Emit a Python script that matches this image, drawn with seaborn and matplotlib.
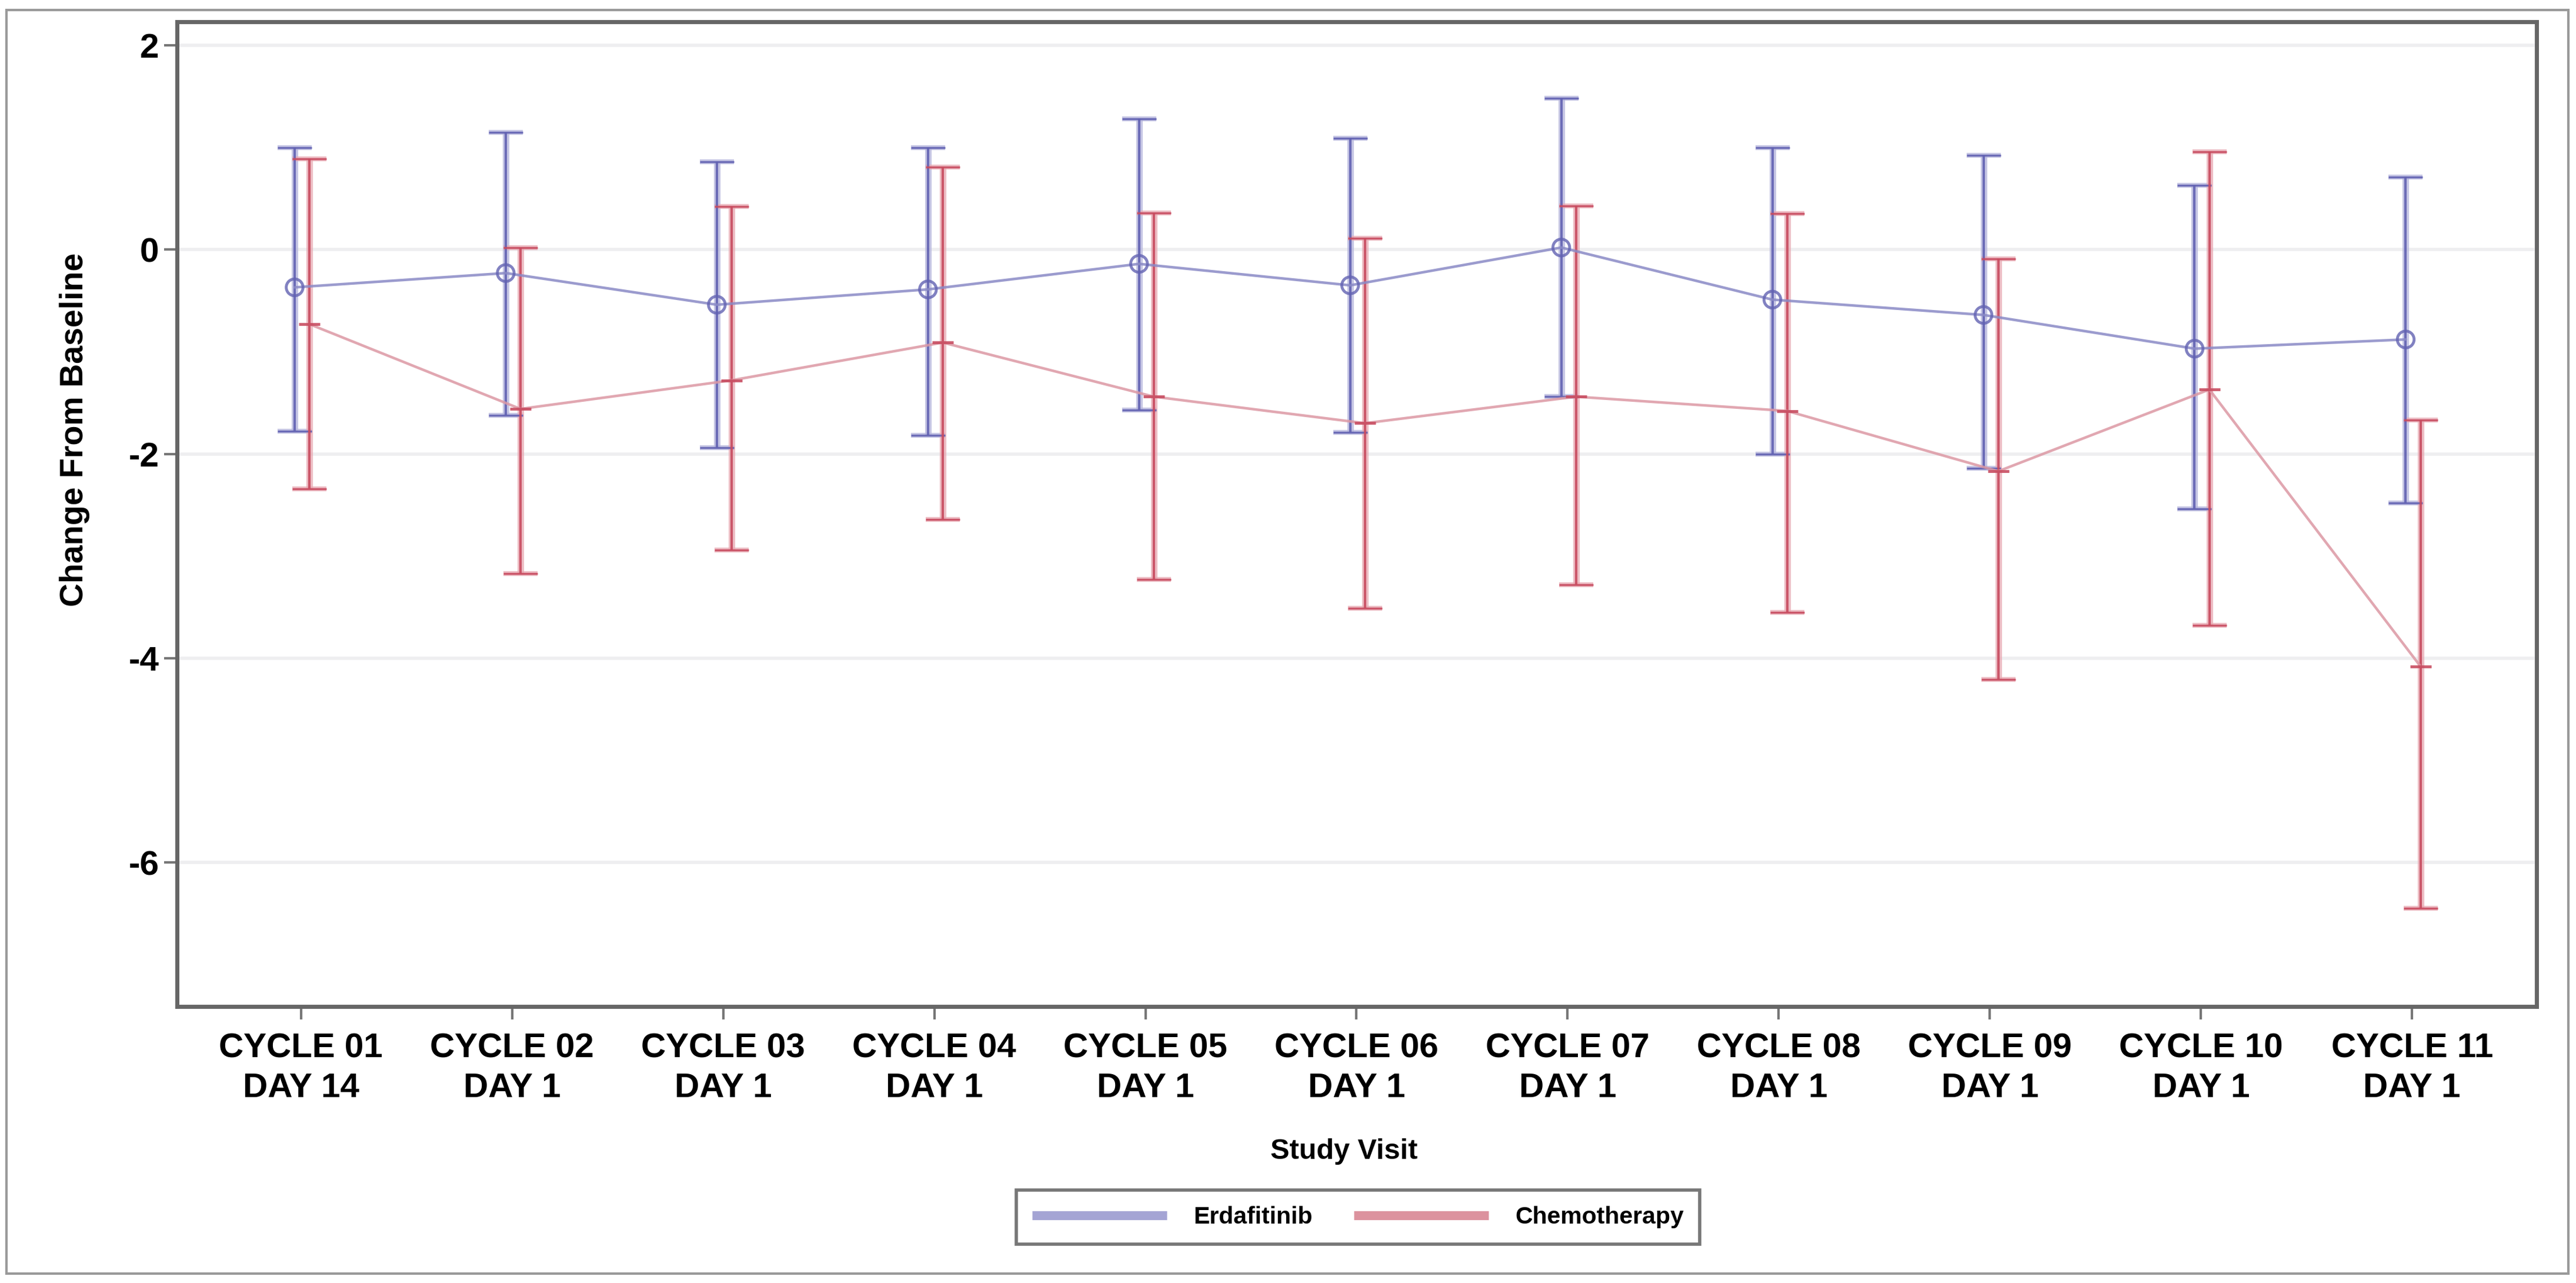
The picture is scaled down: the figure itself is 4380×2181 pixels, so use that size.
import numpy as np
import pandas as pd
import matplotlib
matplotlib.use("Agg")
import matplotlib.pyplot as plt
from matplotlib.lines import Line2D
from matplotlib.patches import Rectangle
import seaborn as sns

# data
visits = [
    "CYCLE 01\nDAY 14", "CYCLE 02\nDAY 1", "CYCLE 03\nDAY 1", "CYCLE 04\nDAY 1",
    "CYCLE 05\nDAY 1", "CYCLE 06\nDAY 1", "CYCLE 07\nDAY 1", "CYCLE 08\nDAY 1",
    "CYCLE 09\nDAY 1", "CYCLE 10\nDAY 1", "CYCLE 11\nDAY 1",
]
groups = ["Erdafitinib", "Chemotherapy"]

erda_mean = [-0.37, -0.23, -0.54, -0.39, -0.14, -0.35, 0.02, -0.49, -0.64, -0.97, -0.88]
erda_low = [-1.78, -1.62, -1.94, -1.82, -1.57, -1.79, -1.44, -2.00, -2.14, -2.54, -2.48]
erda_high = [1.00, 1.15, 0.86, 1.00, 1.28, 1.09, 1.48, 1.00, 0.92, 0.63, 0.71]

chemo_mean = [-0.73, -1.56, -1.28, -0.91, -1.44, -1.70, -1.44, -1.58, -2.17, -1.37, -4.08]
chemo_low = [-2.34, -3.17, -2.94, -2.64, -3.23, -3.51, -3.28, -3.55, -4.21, -3.68, -6.45]
chemo_high = [0.89, 0.02, 0.42, 0.81, 0.36, 0.11, 0.43, 0.35, -0.09, 0.96, -1.67]

y_ticks = [2, 0, -2, -4, -6]

# styling
W, H = 4380, 2181
DPI = 100
dodge = {"Erdafitinib": -0.03, "Chemotherapy": 0.04}
core = {"Erdafitinib": "#6262b2", "Chemotherapy": "#c84c60"}
halo = {"Erdafitinib": "#b4b4dc", "Chemotherapy": "#e8a8b2"}
link = {"Erdafitinib": "#8a8ac6", "Chemotherapy": "#dc98a4"}
legend_col = {"Erdafitinib": "#a4a4d4", "Chemotherapy": "#dc929e"}


def build_frame():
    rows = []
    for g, m, lo, hi in [
        ("Erdafitinib", erda_mean, erda_low, erda_high),
        ("Chemotherapy", chemo_mean, chemo_low, chemo_high),
    ]:
        for i in range(len(visits)):
            rows.append({"group": g, "idx": i, "xpos": i + dodge[g],
                         "mean": m[i], "low": lo[i], "high": hi[i]})
    return pd.DataFrame(rows)


def main():
    sns.set_style("white")
    plt.rcParams["font.family"] = ["Liberation Sans", "DejaVu Sans"]
    plt.rcParams["font.weight"] = "bold"
    plt.rcParams["axes.unicode_minus"] = False
    plt.rcParams["text.color"] = "black"
    plt.rcParams["xtick.labelcolor"] = "black"
    plt.rcParams["ytick.labelcolor"] = "black"

    df = build_frame()

    fig = plt.figure(figsize=(W / DPI, H / DPI), dpi=DPI)
    ax = fig.add_axes([301 / W, 1 - 1711 / H, (4313 - 301) / W, (1711 - 37) / H])

    # light horizontal grid
    for y in y_ticks:
        ax.axhline(y, color="#eeeef0", lw=4, zorder=0)

    # error bars: soft halo + darker core
    for g in groups:
        d = df[df["group"] == g]
        yerr = [d["mean"] - d["low"], d["high"] - d["mean"]]
        ax.errorbar(d["xpos"], d["mean"], yerr=yerr, fmt="none",
                    ecolor=halo[g], elinewidth=8, capsize=21, capthick=6,
                    alpha=0.75, zorder=2)
        ax.errorbar(d["xpos"], d["mean"], yerr=yerr, fmt="none",
                    ecolor=core[g], elinewidth=3, capsize=21, capthick=2.5,
                    alpha=0.9, zorder=3)

    # mean lines
    sns.lineplot(data=df, x="xpos", y="mean", hue="group", hue_order=groups,
                 palette=link, estimator=None, sort=False, lw=3.2,
                 alpha=0.85, legend=False, ax=ax, zorder=4)

    # hollow circles for erdafitinib means, short dash for chemotherapy means
    sns.scatterplot(data=df[df["group"] == "Erdafitinib"], x="xpos", y="mean",
                    s=420, marker="o", facecolors="none",
                    edgecolor=core["Erdafitinib"], linewidth=3.5,
                    alpha=0.8, legend=False, ax=ax, zorder=5)
    sns.scatterplot(data=df[df["group"] == "Chemotherapy"], x="xpos", y="mean",
                    s=700, marker="_", color=core["Chemotherapy"], linewidth=3.5,
                    alpha=0.9, legend=False, ax=ax, zorder=5)

    ax.set_xlim(-0.587, 10.59)
    ax.set_ylim(-7.41, 2.23)
    ax.set_xticks(range(len(visits)))
    ax.set_xticklabels(visits, fontsize=42, fontweight="bold", linespacing=1.32,
                       color="black")
    ax.set_yticks(y_ticks)
    ax.set_yticklabels([str(v) for v in y_ticks], fontsize=42, fontweight="bold",
                       color="black")
    ax.tick_params(axis="both", length=16, width=3, color="#777777",
                   direction="out", bottom=True, left=True)
    ax.tick_params(axis="x", pad=16)
    ax.tick_params(axis="y", pad=6)
    ax.set_xlabel("")
    ax.set_ylabel("")
    for sp in ax.spines.values():
        sp.set_visible(True)
        sp.set_color("#666666")
        sp.set_linewidth(5)

    fig.text(127 / W, 1 - 730 / H, "Change From Baseline", rotation=90,
             ha="center", va="center", fontsize=40, fontweight="bold",
             color="black")
    fig.text(2285 / W, 1 - 1957 / H, "Study Visit", ha="center", va="center",
             fontsize=35, fontweight="bold", color="black")

    handles = [Line2D([0], [0], color=legend_col[g], lw=11,
                      solid_capstyle="butt") for g in groups]
    leg = fig.legend(handles, groups, loc="center",
                     bbox_to_anchor=(2309 / W, 1 - 2069 / H), ncol=2,
                     handlelength=5.6, handletextpad=1.1,
                     columnspacing=1.7, borderpad=0.65, fancybox=False,
                     frameon=True, edgecolor="#555555",
                     prop={"weight": "bold", "size": 29.5})
    leg.get_frame().set_linewidth(4)
    for t in leg.get_texts():
        t.set_color("black")

    # outer frame
    fig.patches.append(Rectangle((11 / W, 1 - 2165 / H), (4367 - 11) / W,
                                 (2165 - 17) / H, transform=fig.transFigure,
                                 fill=False, edgecolor="#9a9a9a", lw=3))

    fig.savefig("out.png", dpi=DPI, facecolor="white")


if __name__ == "__main__":
    main()
